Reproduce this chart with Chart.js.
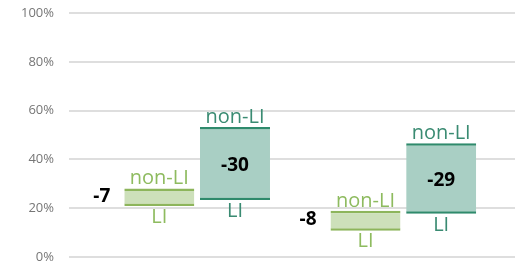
<!DOCTYPE html>
<html>
<head>
<meta charset="utf-8">
<script src="https://cdn.jsdelivr.net/npm/chart.js@4.4.1/dist/chart.umd.min.js"></script>
<style>
  html, body { margin: 0; padding: 0; background: #fff; }
  #wrap { width: 520px; height: 264px; }
</style>
</head>
<body>
<div id="wrap"><canvas id="myChart"></canvas></div>
<script>
// two groups, each with a light green and a teal bar going from LI to non-LI
const groups = ['Group 1', 'Group 2'];
const greenLI = [20.9, 10.8];
const greenNonLI = [28.1, 19.0];
const tealLI = [23.4, 17.7];
const tealNonLI = [53.3, 46.6];
const yTicks = [0, 20, 40, 60, 80, 100];

const toBars = (lo, hi) => groups.map((g, i) => ({ x: i + 1, y: [lo[i], hi[i]] }));

const labelPlugin = {
  id: 'liLabels',
  afterDatasetsDraw(chart) {
    const ctx = chart.ctx;
    chart.data.datasets.forEach((ds, d) => {
      const meta = chart.getDatasetMeta(d);
      meta.data.forEach((bar, i) => {
        const [lo, hi] = ds.data[i].y;
        const top = Math.min(bar.y, bar.base);
        const bottom = Math.max(bar.y, bar.base);
        const left = bar.x - bar.width / 2;
        ctx.save();
        ctx.fillStyle = ds.textColor;
        ctx.font = '20px "Open Sans"';
        ctx.textAlign = 'center';
        ctx.textBaseline = 'alphabetic';
        ctx.fillText('non-LI', bar.x, top - 4);
        ctx.textBaseline = 'top';
        ctx.fillText('LI', bar.x, bottom + 1);

        // difference between LI and non-LI
        const diff = Math.round(lo - hi);
        ctx.fillStyle = '#000';
        ctx.font = 'bold 19px "Open Sans"';
        ctx.textBaseline = 'middle';
        const mid = (top + bottom) / 2;
        if (ds.diffPos === 'left') {
          ctx.textAlign = 'right';
          ctx.fillText(String(diff), left - 14, mid - 1);
        } else {
          ctx.textAlign = 'center';
          ctx.fillText(String(diff), bar.x, mid + 2);
        }
        ctx.restore();
      });
    });
  }
};

const ctx = document.getElementById('myChart').getContext('2d');
const myChart = new Chart(ctx, {
  type: 'bar',
  data: {
    datasets: [{
      data: toBars(greenLI, greenNonLI),
      backgroundColor: '#cde0ba',
      borderColor: '#8db55b',
      borderWidth: { top: 2.5, bottom: 2.5, left: 0, right: 0 },
      borderSkipped: false,
      textColor: '#8ebb5f',
      diffPos: 'left'
    }, {
      data: toBars(tealLI, tealNonLI),
      backgroundColor: '#a9cfc4',
      borderColor: '#2f8a6c',
      borderWidth: { top: 2.5, bottom: 2.5, left: 0, right: 0 },
      borderSkipped: false,
      textColor: '#3a8b72',
      diffPos: 'inside'
    }]
  },
  options: {
    responsive: true,
    maintainAspectRatio: false,
    animation: false,
    categoryPercentage: 0.734,
    barPercentage: 0.925,
    layout: { padding: { top: 13, bottom: 7, right: 5, left: 0 } },
    plugins: {
      legend: { display: false },
      tooltip: { enabled: false }
    },
    scales: {
      x: {
        type: 'linear',
        display: false,
        offset: false,
        min: 0.3785,
        max: 2.5415,
        ticks: { stepSize: 1, includeBounds: false },
        grid: { display: false, offset: false }
      },
      y: {
        min: 0,
        max: 100,
        afterBuildTicks: (scale) => { scale.ticks = yTicks.map(v => ({ value: v })); },
        afterFit: (scale) => {
          scale.width = 69;
          scale.paddingTop = 0;
          scale.paddingBottom = 0;
        },
        border: { display: false },
        grid: { color: '#dedede', lineWidth: 2, drawTicks: false },
        ticks: {
          padding: 15,
          color: '#767676',
          font: { family: '"Open Sans"', size: 13 },
          callback: (v) => v + '%'
        }
      }
    }
  },
  plugins: [labelPlugin]
});
</script>
</body>
</html>
